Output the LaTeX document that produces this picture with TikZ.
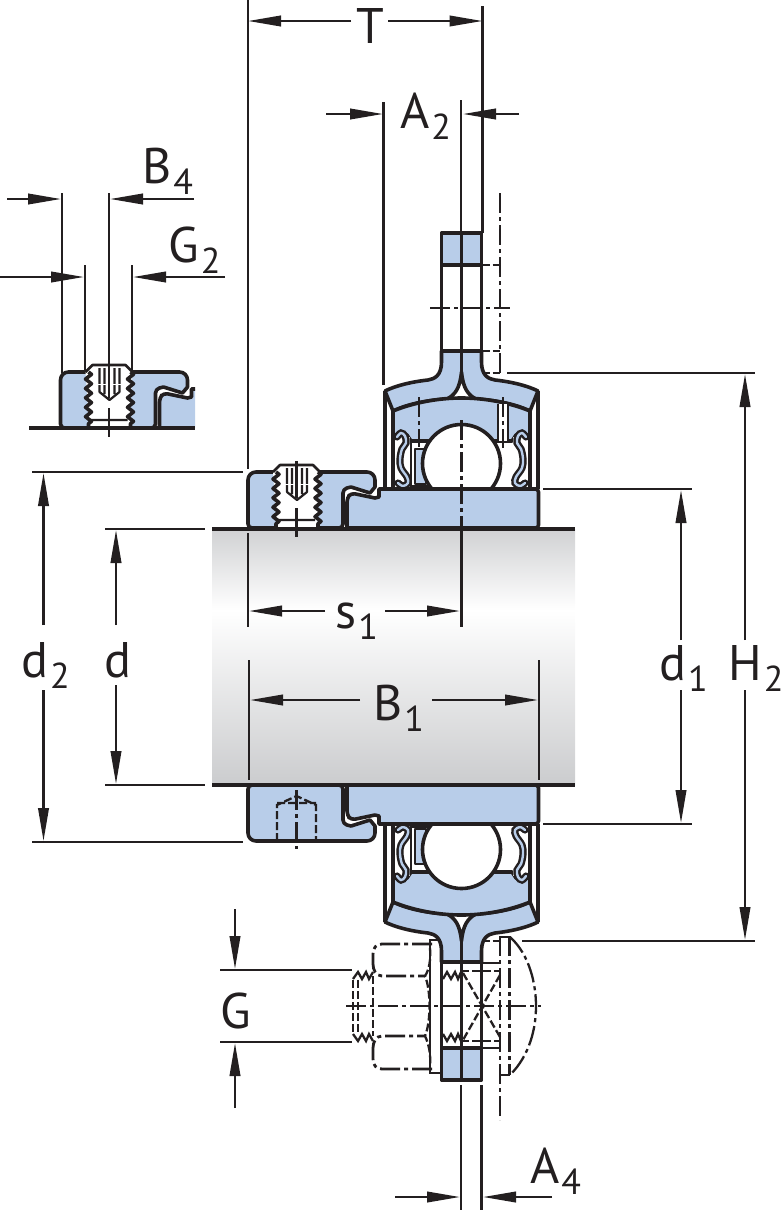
\documentclass[tikz,border=0pt]{standalone}
\usepackage{fontspec}
\setmainfont{PT Sans}
\usepackage{xcolor}
\usetikzlibrary{arrows.meta,decorations.pathmorphing}
\definecolor{partblue}{RGB}{184,205,233}
\definecolor{inkdark}{RGB}{35,31,32}
\definecolor{shaftgray}{RGB}{203,204,206}
\tikzset{
    objline/.style={line width=3.6pt, draw=inkdark, line join=round},
    partfill/.style={objline, fill=partblue},
    dimline/.style={line width=2.3pt, draw=inkdark},
    dimarrow/.style={dimline, -{Triangle[length=33pt,width=10.5pt]}},
    axisline/.style={line width=2.3pt, draw=inkdark, dash pattern=on 20pt off 4pt on 4pt off 4pt},
    hidden/.style={line width=2.3pt, draw=inkdark, dash pattern=on 8pt off 3pt},
    dimtext/.style={font=\fontsize{50}{50}\selectfont, text=inkdark, inner sep=0pt, anchor=base west},
    thread/.style={objline, decorate, decoration={zigzag,segment length=9.4pt,amplitude=3pt}}
}
\newcommand{\dimsub}[2]{#1\kern2pt\raisebox{-11pt}{\fontsize{36}{36}\selectfont #2}}
% one half of the bearing with its housing web
\newcommand{\bearinghalf}{
    \draw[partfill] (441.5,233) rectangle (481.5,265);
    \draw[objline] (441.5,265) -- (441.5,351) (481.5,265) -- (481.5,351);
    \draw[partfill] (441.5,351) -- (441.5,362) .. controls (441.5,375) and (435,379) .. (428,380)
        .. controls (410,382) and (395,386) .. (385,391) -- (393,411)
        .. controls (410,403) and (430,400) .. (447,399) .. controls (455,395) and (460,388) .. (461.5,372)
        .. controls (463,388) and (468,395) .. (476,399) .. controls (493,400) and (513,403) .. (530,411)
        -- (538,391) .. controls (528,386) and (513,382) .. (495,380) .. controls (488,379) and (481.5,375) .. (481.5,362)
        -- (481.5,351) -- cycle;
    \draw[objline] (461.5,233) -- (461.5,380);
    % outer ring
    \draw[partfill] (393,411) .. controls (415,402) and (440,398) .. (461.5,398)
        .. controls (483,398) and (508,402) .. (530,411) -- (530,435) -- (516,435) -- (512,441)
        -- (411,441) -- (407,435) -- (393,435) -- cycle;
    \draw[objline] (385,391) -- (385,489) (538,391) -- (538,489) (393,411) -- (393,489) (530,411) -- (530,489);
    % cage and seals
    \draw[partfill, line width=2.6pt] (415,449) rectangle (426,484);
    \draw[objline, line width=2.6pt] (411,441) -- (411,488) (411,486) -- (428,486);
    \foreach \side/\flip in {0/1,923/-1} {
        \begin{scope}[shift={(\side,0)},xscale=\flip]
            \fill[white] (395,437) rectangle (410,487.5);
            \draw[inkdark, line width=2.4pt, double=partblue, double distance=2.4pt, line cap=round]
                plot[smooth,tension=0.6] coordinates {(397,437) (401,433) (405,436) (406,443) (402,449) (400,459) (401,468) (407,477) (408,483) (403,486) (398,483)};
        \end{scope}
    }
    % ball
    \draw[objline, fill=white] (461.5,463.5) circle (39);
    % inner ring
    \draw[partfill] (347,528) [rounded corners=4pt] -- (347,498) -- (351,493) [rounded corners=0pt] -- (375,498) -- (379,497)
        -- (379,489) -- (536,489) [rounded corners=3pt] -- (538.5,489) -- (538.5,528) [rounded corners=0pt] -- cycle;
}
% locking collar, without its screw
\newcommand{\collarbody}{
    \draw[partfill] (248,500) [rounded corners=8pt] -- (248,472) -- (375,472) [rounded corners=0pt] -- (375,487)
        -- (370,493) -- (351,487) [rounded corners=4pt] -- (343,489) -- (343,528) -- (248,528) -- cycle;
}
\newcommand{\setscrew}{
    \fill[white] (273,472) -- (280,465) -- (313,465) -- (320,472) -- (317,528) -- (277,528) -- cycle;
    \draw[objline, line width=2.6pt] (273,472) -- (280,465) -- (313,465) -- (320,472);
    \draw[thread] (276,472) -- (276,528);
    \draw[thread] (318,472) -- (318,528);
    \draw[objline, line width=2.2pt] (287,468) -- (287,492) -- (297,500) -- (307,492) -- (307,468)
        (292,468) -- (292,494) (302,468) -- (302,494) (278,520) -- (315,520);
    \draw[white, line width=1pt] (281,484) -- (313,484);
    \draw[dimline] (296.5,461) -- (296.5,498) (296.5,508) -- (296.5,537);
}
\begin{document}
\begin{tikzpicture}[x=1pt, y=-1pt]
    \useasboundingbox (0,0) rectangle (783,1210);

    % Shaft
    \fill[top color=shaftgray!90, bottom color=white] (212,529) rectangle (575,610);
    \fill[top color=white, bottom color=shaftgray] (212,610) rectangle (575,785);

    % Collar and bearing, upper half
    \bearinghalf
    \collarbody
    \setscrew
    \draw[axisline] (461.5,420) -- (461.5,528);
    \draw[axisline] (419,397) -- (419,447);
    \fill[white] (498,404) rectangle (508,441);
    \draw[dimline] (498,404) -- (498,441) (508,404) -- (508,441);
    \draw[axisline] (503,397) -- (503,448);

    % Lower half is the mirror image
    \begin{scope}[shift={(0,1313)}, yscale=-1]
        \bearinghalf
        \collarbody
    \end{scope}
    \draw[hidden] (277,841) -- (277,805) -- (296.5,796) -- (316,805) -- (316,841) (277,803) -- (316,803);
    \draw[axisline] (296.5,790) -- (296.5,849);

    % Shaft edges
    \draw[objline] (212,529) -- (575,529) (212,785) -- (575,785);

    % Detail view of the collar
    \begin{scope}[shift={(-187.5,-100)}]
        \begin{scope}
            \clip (240,460) rectangle (382.5,540);
            \collarbody
            \fill[partblue] (347,528) -- (347,498) -- (351,493) -- (375,498) -- (379,497) -- (379,489) -- (382.5,489) -- (382.5,528) -- cycle;
            \draw[objline] (347,528) [rounded corners=4pt] -- (347,498) -- (351,493) [rounded corners=0pt] -- (375,498) -- (379,497) -- (379,489) -- (383,489);
        \end{scope}
        \setscrew
    \end{scope}
    \draw[objline] (29,428) -- (195,428);

    % Web of the upper flange
    \draw[axisline] (430,308) -- (510,308);
    \draw[axisline] (500,193) -- (500,373);
    \draw[hidden] (481.5,265) -- (500,265) (481.5,351) -- (500,351) (481.5,373) -- (500,373);

    % Bolt at the lower flange
    \draw[dimline] (441,940) -- (430,940) -- (430,1073) -- (441,1073);
    \draw[axisline, line width=2.8pt] (432,944) -- (382,944) .. controls (376,944) and (373,948) .. (373,954) -- (373,964) .. controls (373,970) and (376,976) .. (382,976) -- (425,976);
    \draw[axisline, line width=2.8pt] (432,1069) -- (382,1069) .. controls (376,1069) and (373,1065) .. (373,1059) -- (373,1048) .. controls (373,1042) and (376,1036) .. (382,1036) -- (425,1036);
    \draw[hidden] (430,948) .. controls (431,960) and (429,970) .. (425,976) .. controls (431,990) and (431,1022) .. (425,1036) .. controls (429,1044) and (431,1056) .. (430,1066);
    \draw[hidden] (373,976) -- (373,1036) (358,980) -- (358,1032) (353,980) -- (353,1033);
    \foreach \ytop/\ybot in {979/972,1034/1041} {
        \draw[dimline] (353,\ytop) -- (358,\ybot) -- (362,\ytop) -- (366,\ybot) -- (369,\ytop) -- (373,\ybot);
        \draw[dimline] (443,\ytop) -- (447,\ybot) -- (451,\ytop) -- (455,\ybot) -- (458,\ytop) -- (461,\ybot);
    }
    \draw[hidden] (461,971) -- (500,971) (461,1041) -- (500,1041);
    \draw[hidden] (463,973) -- (500,1037) (500,975) -- (463,1040);
    \draw[dimline] (481.5,963) -- (500,963) (481.5,1048) -- (500,1048);
    \draw[hidden] (481.5,941) -- (500,941);
    \draw[axisline] (500,936) -- (500,1120);
    \draw[axisline] (509.5,936) -- (509.5,1075);
    \draw[dimline] (500,937) -- (510,937) (500,1075) -- (510,1075);
    \draw[axisline] (510,937) .. controls (530,955) and (536,985) .. (536,1006) .. controls (536,1028) and (530,1055) .. (510,1075);
    \draw[axisline] (346,1006) -- (541,1006);

    % Dimension T
    \draw[dimline] (248,0) -- (248,469);
    \draw[dimline] (482.5,6) -- (482.5,233);
    \draw[dimarrow] (351,21) -- (248,21);
    \draw[dimarrow] (388,21) -- (482.5,21);
    \node[dimtext, anchor=base] (labelT) at (370,43) {T};

    % Dimension A2
    \draw[dimline] (383.5,102) -- (383.5,385);
    \draw[dimline] (461,100) -- (461,233);
    \draw[dimarrow] (326,114) -- (383,114);
    \draw[dimarrow] (519,114) -- (463,114);
    \node[dimtext] (labelAtwo) at (400,128) {\dimsub{A}{2}};

    % Dimensions B4 and G2
    \draw[dimline] (62,193) -- (62,373) (109,193) -- (109,367) (85,265) -- (85,370) (132,265) -- (132,370);
    \draw[dimarrow] (7,199) -- (61,199);
    \draw[dimarrow] (194,199) -- (110,199);
    \draw[dimarrow] (0,277) -- (84,277);
    \draw[dimarrow] (225,277) -- (133,277);
    \node[dimtext] (labelBfour) at (142,183) {\dimsub{B}{4}};
    \node[dimtext] (labelGtwo) at (168,262) {\dimsub{G}{2}};

    % Dimensions d2 and d
    \draw[dimline] (32,472) -- (243,472) (32,842) -- (243,842);
    \draw[dimline] (105,529) -- (205,529) (105,785) -- (205,785);
    \draw[dimarrow] (43.5,625) -- (43.5,473);
    \draw[dimarrow] (43.5,690) -- (43.5,841);
    \draw[dimarrow] (116,625) -- (116,530);
    \draw[dimarrow] (116,685) -- (116,784);
    \node[dimtext] (labelDtwo) at (21,677) {\dimsub{d}{2}};
    \node[dimtext] (labelD) at (104,677) {d};

    % Dimensions s1 and B1
    \draw[dimline] (248,533) -- (248,627);
    \draw[dimline] (461.5,528) -- (461.5,627);
    \draw[dimarrow] (325,611) -- (249,611);
    \draw[dimarrow] (385,611) -- (460,611);
    \node[dimtext] (labelSone) at (335,628) {\dimsub{s}{1}};
    \draw[dimline] (249,660) -- (249,780) (539,660) -- (539,780);
    \draw[dimarrow] (360,700) -- (250,700);
    \draw[dimarrow] (432,700) -- (538,700);
    \node[dimtext] (labelBone) at (373,720) {\dimsub{B}{1}};

    % Dimensions d1 and H2
    \draw[dimline] (543,489) -- (692,489) (543,824) -- (692,824);
    \draw[dimarrow] (681,640) -- (681,490);
    \draw[dimarrow] (681,690) -- (681,823);
    \node[dimtext] (labelDone) at (659,680) {\dimsub{d}{1}};
    \draw[dimline] (507,373) -- (755,373) (522,941) -- (755,941);
    \draw[dimarrow] (745,640) -- (745,374);
    \draw[dimarrow] (745,690) -- (745,940);
    \node[dimtext] (labelHtwo) at (728,680) {\dimsub{H}{2}};

    % Dimension G
    \draw[dimline] (220,970) -- (352,970) (220,1042) -- (352,1042);
    \draw[dimarrow] (235,909) -- (235,969);
    \draw[dimarrow] (235,1108) -- (235,1043);
    \node[dimtext] (labelG) at (220,1028) {G};

    % Dimension A4
    \draw[dimline] (461,1085) -- (461,1210) (481.5,1085) -- (481.5,1210);
    \draw[dimarrow] (395,1197) -- (460,1197);
    \draw[dimarrow] (552,1197) -- (483,1197);
    \node[dimtext] (labelAfour) at (530,1183) {\dimsub{A}{4}};
\end{tikzpicture}
\end{document}
